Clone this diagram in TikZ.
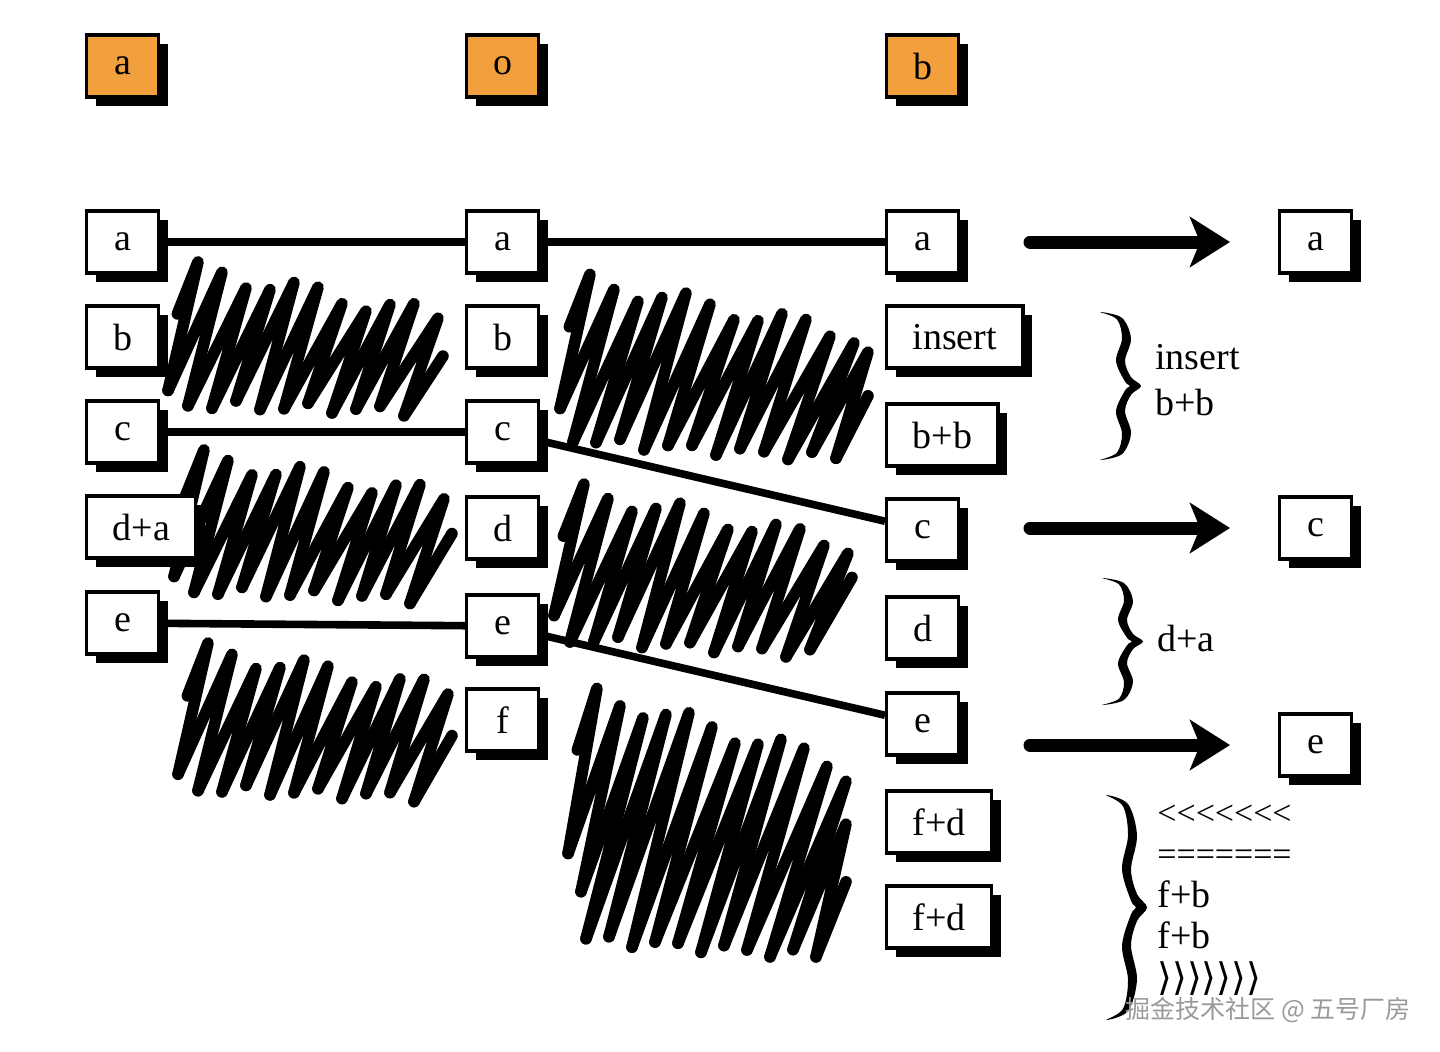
\documentclass[tikz,border=0pt]{standalone}
\usepackage{fontspec}
\setmainfont{Liberation Serif}
\newfontfamily\angfont{DejaVu Sans}
\newfontfamily\cjkfont{Noto Sans CJK SC}
\usetikzlibrary{arrows.meta,shadows}
\definecolor{tabfill}{HTML}{F2A03D}

% hand drawn brace: x of left side, top y, bottom y (picture units)
\newcommand{\wavebrace}[3]{%
  \fill plot[smooth cycle, tension=0.55] coordinates {
    (#1, #2) ({#1+22}, {#2+0.04*(#3-#2)}) ({#1+31}, {#2+0.18*(#3-#2)})
    ({#1+25}, {#2+0.33*(#3-#2)}) ({#1+31}, {#2+0.44*(#3-#2)}) ({#1+41}, {#2+0.5*(#3-#2)})
    ({#1+31}, {#2+0.56*(#3-#2)}) ({#1+25}, {#2+0.67*(#3-#2)}) ({#1+31}, {#2+0.82*(#3-#2)})
    ({#1+22}, {#2+0.96*(#3-#2)}) (#1, #3) ({#1+17}, {#2+0.95*(#3-#2)})
    ({#1+22}, {#2+0.82*(#3-#2)}) ({#1+16}, {#2+0.67*(#3-#2)}) ({#1+25}, {#2+0.53*(#3-#2)})
    ({#1+30}, {#2+0.5*(#3-#2)}) ({#1+25}, {#2+0.47*(#3-#2)}) ({#1+16}, {#2+0.33*(#3-#2)})
    ({#1+22}, {#2+0.18*(#3-#2)}) ({#1+17}, {#2+0.05*(#3-#2)})
  };}

\begin{document}
\begin{tikzpicture}[x=0.5pt, y=-0.5pt,
    box/.style={draw, line width=1.6pt, fill=white, anchor=west, minimum width=36pt, minimum height=31pt, inner xsep=13pt, font=\fontsize{19}{23}\selectfont, drop shadow={shadow xshift=4.5pt, shadow yshift=-4.5pt, fill=black, opacity=1}},
    tab/.style={box, fill=tabfill},
    link/.style={line width=3.8pt},
    bigarrow/.style={line width=6.5pt, line cap=round, -{Stealth[length=20pt, width=25pt, inset=5pt]}},
    scribble/.style={line width=5.8pt, line join=round, line cap=round},
    note/.style={anchor=west, align=left, inner sep=0pt, font=\fontsize{19}{23}\selectfont}]
    \useasboundingbox (0,0) rectangle (1440,1051);

    % scribbled-out blocks: left, right, top y at left/right, bottom y at left/right, slant, step
    \foreach \xl/\xr/\ytl/\ytr/\ybl/\ybr/\s/\dx in {
        174/443/266/318/404/412/58/24, 180/452/455/498/590/600/58/24,
        184/452/648/692/788/798/58/24, 566/868/278/338/440/460/66/24,
        560/852/488/546/638/656/62/24, 574/846/690/765/938/958/80/23}{
      \pgfmathtruncatemacro{\n}{(\xr-\xl+\s-22)/\dx}
      \foreach \k in {1,...,\n}{
        \pgfmathsetmacro{\cx}{\xl+7*sin(\k*151)}
        \pgfmathsetmacro{\bx}{\xl-\s+\k*\dx}
        \pgfmathsetmacro{\tx}{\bx+\s}
        \pgfmathsetmacro{\yb}{\ybl+(\ybr-\ybl)*max(0,min(1,(\bx-\xl)/(\xr-\xl)))-5*sin(\k*127+\xl)}
        \pgfmathsetmacro{\yt}{\ytl+(\ytr-\ytl)*max(0,min(1,(\tx-\xl)/(\xr-\xl)))+9*sin(\k*83+\xl)}
        \coordinate (p\k) at ({max(\bx,\cx)}, {\yb+max(0,\cx-\bx)/\s*(\yt-\yb)});
        \coordinate (q\k) at ({min(\tx,\xr)}, {\yt+max(0,\tx-\xr)/\s*(\yb-\yt)});
      }
      \foreach \k [evaluate=\k as \j using int(\k+1)] in {1,...,\numexpr\n-1\relax}{
        \draw[scribble] (p\k) -- (q\k) -- (p\j);
      }
      \draw[scribble] (p\n) -- (q\n);
    }

    % branch heads
    \node[tab] (TA) at (85, 66) {a};
    \node[tab] (TO) at (465, 66) {o};
    \node[tab] (TB) at (885, 66) {b};

    % branch a
    \node[box] (A1) at (85, 242) {a};
    \node[box] (B1) at (85, 337) {b};
    \node[box] (C1) at (85, 432) {c};
    \node[box] (DA1) at (85, 527) {d+a};
    \node[box] (E1) at (85, 623) {e};

    % branch o
    \node[box] (A2) at (465, 242) {a};
    \node[box] (B2) at (465, 337) {b};
    \node[box] (C2) at (465, 432) {c};
    \node[box] (D2) at (465, 528) {d};
    \node[box] (E2) at (465, 626) {e};
    \node[box] (F2) at (465, 720) {f};

    % branch b
    \node[box] (A3) at (885, 242) {a};
    \node[box] (INS3) at (885, 337) {insert};
    \node[box] (BB3) at (885, 435) {b+b};
    \node[box] (C3) at (885, 530) {c};
    \node[box] (D3) at (885, 628) {d};
    \node[box] (E3) at (885, 724) {e};
    \node[box] (FD3) at (885, 822) {f+d};
    \node[box] (FDD3) at (885, 917) {f+d};

    % result
    \node[box] (A4) at (1278, 242) {a};
    \node[box] (C4) at (1278, 528) {c};
    \node[box] (E4) at (1278, 745) {e};

    \draw[link] (A1) -- (A2);
    \draw[link] (A2) -- (A3);
    \draw[link] (C1) -- (C2);
    \draw[link] (C2) -- (C3);
    \draw[link] (E1) -- (E2);
    \draw[link] (E2) -- (E3);

    \draw[bigarrow] ([xshift=-124pt]A4.west) -- ([xshift=-24pt]A4.west);
    \draw[bigarrow] ([xshift=-124pt]C4.west) -- ([xshift=-24pt]C4.west);
    \draw[bigarrow] ([xshift=-124pt]E4.west) -- ([xshift=-24pt]E4.west);

    % merge notes
    \wavebrace{1100}{312}{460}
    \node[note] (N1) at (1155, 380) {insert\\b+b};
    \wavebrace{1102}{578}{705}
    \node[note] (N2) at (1157, 638) {d+a};
    \wavebrace{1106}{795}{1020}
    \node[note, font=\fontsize{19}{20.8}\selectfont] (N3) at (1157, 900)
      {{\fontsize{17}{20.8}\selectfont <\kern0pt<\kern0pt<\kern0pt<\kern0pt<\kern0pt<\kern0pt<}\\{\fontsize{17}{20.8}\selectfont =======}\\f+b\\f+b\\{\angfont ⟩⟩⟩⟩⟩⟩⟩}};

    \node[text=gray!80, font=\fontsize{12.5}{14}\selectfont\cjkfont] (WM) at (1268, 1010) {掘金技术社区 @ 五号厂房};
\end{tikzpicture}
\end{document}
